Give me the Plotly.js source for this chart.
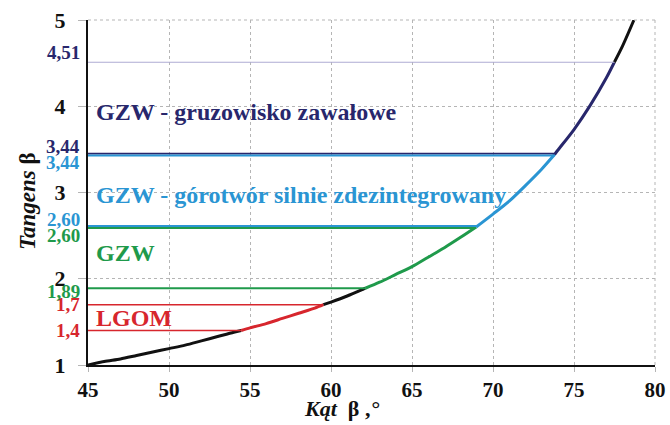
<!DOCTYPE html>
<html><head><meta charset="utf-8">
<script src="https://cdn.plot.ly/plotly-3.0.1.min.js"></script>
<style>body{margin:0;background:#fff}#chart{width:670px;height:425px}</style>
</head><body><div id="chart"></div>
<script>
// Curve: angle (deg) vs tangent
const angles = [45,46,47,48,49,50,51,52,53,54,55,56,57,58,59,60,61,62,63,64,65,66,67,68,69,70,71,72,73,74,75,76,77,78,78.7];
const tangents = [1.00,1.04,1.07,1.11,1.15,1.19,1.23,1.28,1.33,1.38,1.43,1.48,1.54,1.60,1.66,1.73,1.80,1.88,1.96,2.05,2.14,2.25,2.36,2.48,2.61,2.75,2.90,3.08,3.27,3.49,3.73,4.01,4.33,4.70,5.00];

// Threshold levels and the angles where they meet the curve
const levels = [1.4, 1.7, 1.89, 2.60, 3.44, 4.51];
const levelAngles = [54.46, 59.53, 62.12, 68.96, 73.8, 77.49];
const levelLabels = ["1,4","1,7","1,89","2,60","3,44","4,51"];

const startAngle = 45, startTan = 1.0, endAngle = 78.7, endTan = 5.0;

const C = {black:'#111111', red:'#d7262d', green:'#1f9a4b', blue:'#2a95d3', navy:'#28276c', lav:'#aeabd3'};
const segColors = [C.black, C.red, C.black, C.green, C.blue, C.navy, C.black];

const regionLabels = ["LGOM","GZW","GZW - górotwór silnie zdezintegrowany","GZW - gruzowisko zawałowe"];
const regionLabelY = [1.55, 2.30, 2.97, 3.93];
const regionColors = [C.red, C.green, C.blue, C.navy];

const traces = [];
const bx = [startAngle, ...levelAngles, endAngle];
const by = [startTan, ...levels, endTan];
for (let i = 0; i < bx.length - 1; i++) {
  const xs = [bx[i]], ys = [by[i]];
  angles.forEach((a, j) => { if (a > bx[i] + 0.05 && a < bx[i+1] - 0.05) { xs.push(a); ys.push(tangents[j]); } });
  xs.push(bx[i+1]); ys.push(by[i+1]);
  traces.push({x: xs, y: ys, mode: 'lines', line: {color: segColors[i], width: 3, shape:'spline', smoothing:0.8}, hoverinfo: 'skip', showlegend: false});
}

const shapes = [];
function hline(lvlIdx, color, width, shift) {
  shapes.push({type:'line', xref:'x', yref:'y', x0: startAngle, x1: levelAngles[lvlIdx],
    ysizemode:'pixel', yanchor: levels[lvlIdx], y0: shift, y1: shift,
    line:{color: color, width: width}});
}
hline(0, C.red, 1.5, 0);
hline(1, C.red, 1.5, 0);
hline(2, C.green, 2, 0);
hline(3, C.blue, 2, 1);
hline(3, C.green, 2, -1);
hline(4, C.navy, 1.8, 1);
hline(4, C.blue, 2, -1);
hline(5, C.lav, 1.2, 0);
// dotted top and right frame
shapes.push({type:'line', xref:'paper', yref:'paper', x0:0, x1:1, y0:1, y1:1, line:{color:'#b5b5b5', width:1, dash:'dot'}});
shapes.push({type:'line', xref:'paper', yref:'paper', x0:1, x1:1, y0:0, y1:1, line:{color:'#b5b5b5', width:1, dash:'dot'}});

const serif = 'Liberation Serif, Times New Roman, serif';
const annotations = [];
const lab = [
  {i:0, c:C.red, s:0}, {i:1, c:C.red, s:0}, {i:2, c:C.green, s:-3},
  {i:3, c:C.blue, s:8}, {i:3, c:C.green, s:-8},
  {i:4, c:C.navy, s:8}, {i:4, c:C.blue, s:-8}, {i:5, c:C.navy, s:10}
];
lab.forEach(o => annotations.push({xref:'paper', yref:'y', x:0, y: levels[o.i], xanchor:'right', yanchor:'middle',
  xshift:-6, yshift:o.s, text: '<b>' + levelLabels[o.i] + '</b>', showarrow:false,
  font:{family:serif, size:19, color:o.c}}));
regionLabels.forEach((t, i) => annotations.push({xref:'x', yref:'y', x:45.35, y: regionLabelY[i], xanchor:'left', yanchor:'middle',
  text:'<b>' + t + '</b>', showarrow:false, font:{family:serif, size:24, color: regionColors[i]}}));
annotations.push({xref:'paper', yref:'paper', x:-0.108, y:0.475, xanchor:'center', yanchor:'middle', textangle:-90,
  text:'<b><i>Tangens</i> β</b>', showarrow:false, font:{family:serif, size:23, color:'#111'}});
annotations.push({xref:'paper', yref:'paper', x:0.447, y:-0.125, xanchor:'center', yanchor:'middle',
  text:'<b><i>Kąt</i>  β ,<i>°</i></b>', showarrow:false, font:{family:serif, size:22, color:'#111'}});

const layout = {
  width:670, height:425, margin:{l:88, r:15, t:20, b:60},
  paper_bgcolor:'#fff', plot_bgcolor:'#fff',
  xaxis:{range:[45,80], dtick:5, tick0:45, showgrid:true, gridcolor:'#b5b5b5', griddash:'dot', gridwidth:1,
    showline:true, linecolor:'#111', linewidth:2, ticks:'outside', ticklen:5, tickcolor:'#b5b5b5',
    ticklabelstandoff:0, zeroline:false, fixedrange:true,
    tickfont:{family:serif, size:21, color:'#111', weight:'bold'}},
  yaxis:{range:[1,5], dtick:1, tick0:1, showgrid:true, gridcolor:'#b5b5b5', griddash:'dot', gridwidth:1,
    showline:true, linecolor:'#111', linewidth:2, ticks:'outside', ticklen:8, tickcolor:'#b5b5b5',
    ticklabelstandoff:8, zeroline:false, fixedrange:true,
    tickfont:{family:serif, size:22, color:'#111', weight:'bold'}},
  shapes: shapes, annotations: annotations, showlegend:false
};
Plotly.newPlot('chart', traces, layout, {displayModeBar:false, staticPlot:true});
</script></body></html>
